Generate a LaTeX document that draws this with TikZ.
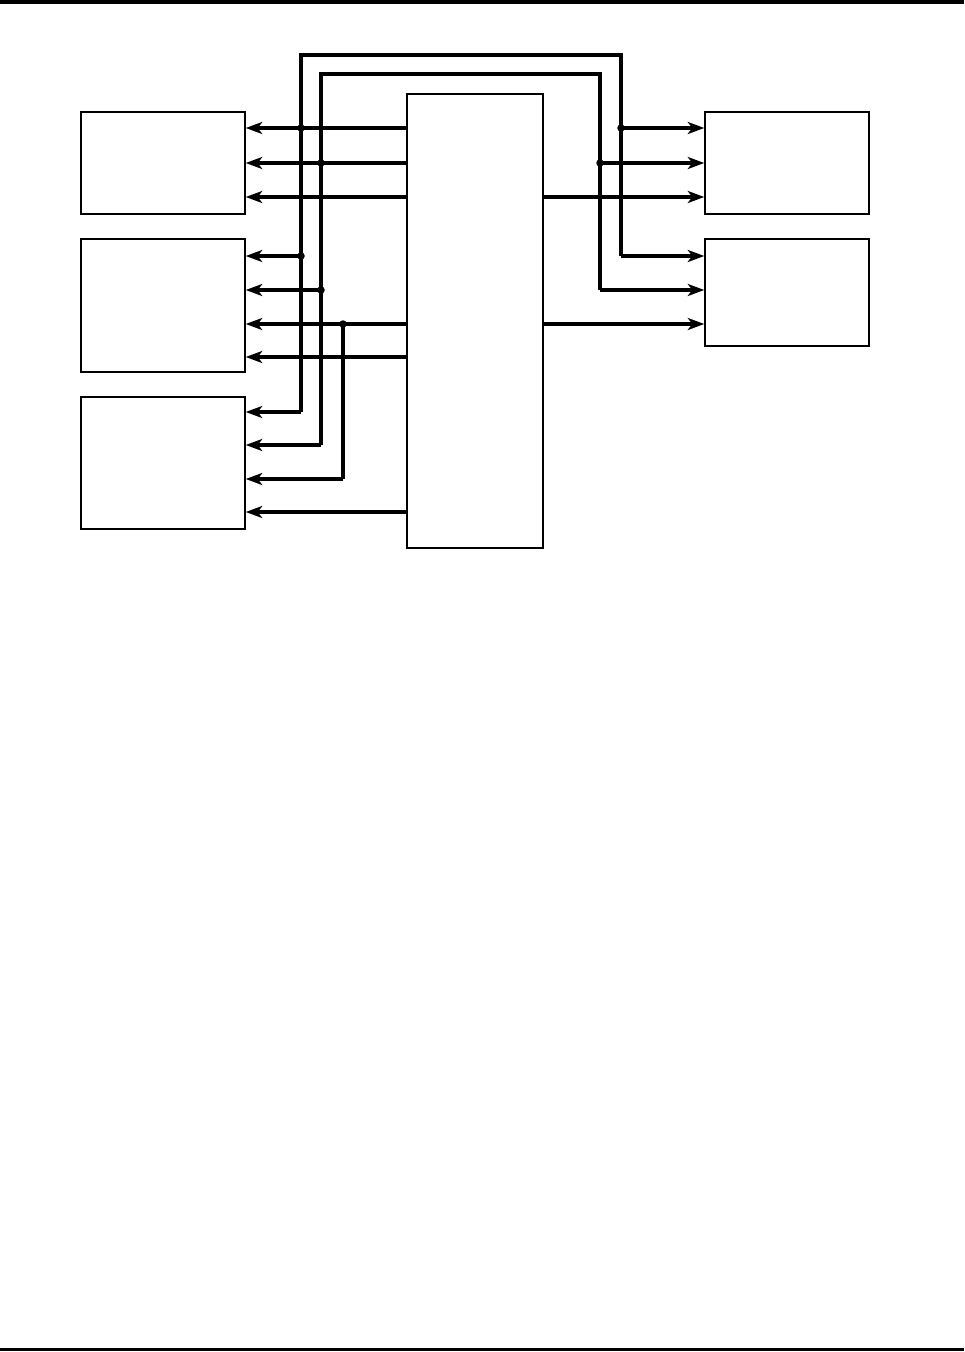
\documentclass[tikz,border=0pt]{standalone}
\usetikzlibrary{arrows.meta}

\tikzset{
  blk/.style={draw, line width=0.85pt, inner sep=0pt},
  sig/.style={line width=1.8pt, -{Stealth[length=3.3mm,width=2.4mm,inset=0.9mm]}},
  wire/.style={line width=1.8pt},
  bigbus/.style={line width=2.4pt},
}

\begin{document}
\begin{tikzpicture}[x=0.02cm, y=-0.02cm, line join=miter]
  \useasboundingbox (0,0) rectangle (964,1352);
  % Page rules
  \draw[line width=2pt] (0,2) -- (964,2);
  \draw[line width=2pt] (0,1349.5) -- (964,1349.5);
  % Blocks
  \node[blk, minimum width=2.72cm, minimum height=9.08cm] (ctrl) at (475,321) {};
  \node[blk, minimum width=3.28cm, minimum height=2.04cm] (lefta) at (163,163) {};
  \node[blk, minimum width=3.28cm, minimum height=2.66cm] (leftb) at (163,305.5) {};
  \node[blk, minimum width=3.28cm, minimum height=2.64cm] (leftc) at (163,463) {};
  \node[blk, minimum width=3.28cm, minimum height=2.04cm] (righta) at (787,163) {};
  \node[blk, minimum width=3.28cm, minimum height=2.14cm] (rightb) at (787,292.5) {};
  % Direct signals from the controller
  \foreach \y in {128,163,197}
    \draw[sig] (ctrl.west |- 0,\y) -- (lefta.east |- 0,\y);
  \foreach \y in {324,357}
    \draw[sig] (ctrl.west |- 0,\y) -- (leftb.east |- 0,\y);
  \draw[sig] (ctrl.west |- 0,512) -- (leftc.east |- 0,512);
  \draw[sig] (ctrl.east |- 0,197) -- (righta.west |- 0,197);
  \draw[sig] (ctrl.east |- 0,324) -- (rightb.west |- 0,324);
  % Taps
  \coordinate (ta) at (301,128);
  \coordinate (tb) at (301,256);
  \coordinate (tc) at (621,128);
  \coordinate (td) at (321,163);
  \coordinate (te) at (321,290);
  \coordinate (tf) at (600,163);
  \coordinate (tg) at (343,324);
  % Bus corners
  \coordinate (oa) at (301,412);
  \coordinate (ob) at (621,256);
  \coordinate (ia) at (321,445);
  \coordinate (ib) at (600,290);
  \coordinate (ga) at (343,479);
  % Outer bus
  \draw[bigbus] (oa) -- (301,55) -- (621,55) -- (ob);
  \draw[sig] (oa) -- (leftc.east |- oa);
  \draw[sig] (ob) -- (rightb.west |- ob);
  \draw[sig] (tb) -- (leftb.east |- tb);
  \draw[sig] (tc) -- (righta.west |- tc);
  % Inner bus
  \draw[wire] (ia) -- (321,74) -- (600,74) -- (ib);
  \draw[sig] (ia) -- (leftc.east |- ia);
  \draw[sig] (ib) -- (rightb.west |- ib);
  \draw[sig] (te) -- (leftb.east |- te);
  \draw[sig] (tf) -- (righta.west |- tf);
  % Third branch
  \draw[wire] (tg) -- (ga);
  \draw[sig] (ga) -- (leftc.east |- ga);
  % Junction dots
  \foreach \t in {ta,tb,tc,td,te,tf,tg}
    \fill (\t) circle (0.75mm);
\end{tikzpicture}
\end{document}
